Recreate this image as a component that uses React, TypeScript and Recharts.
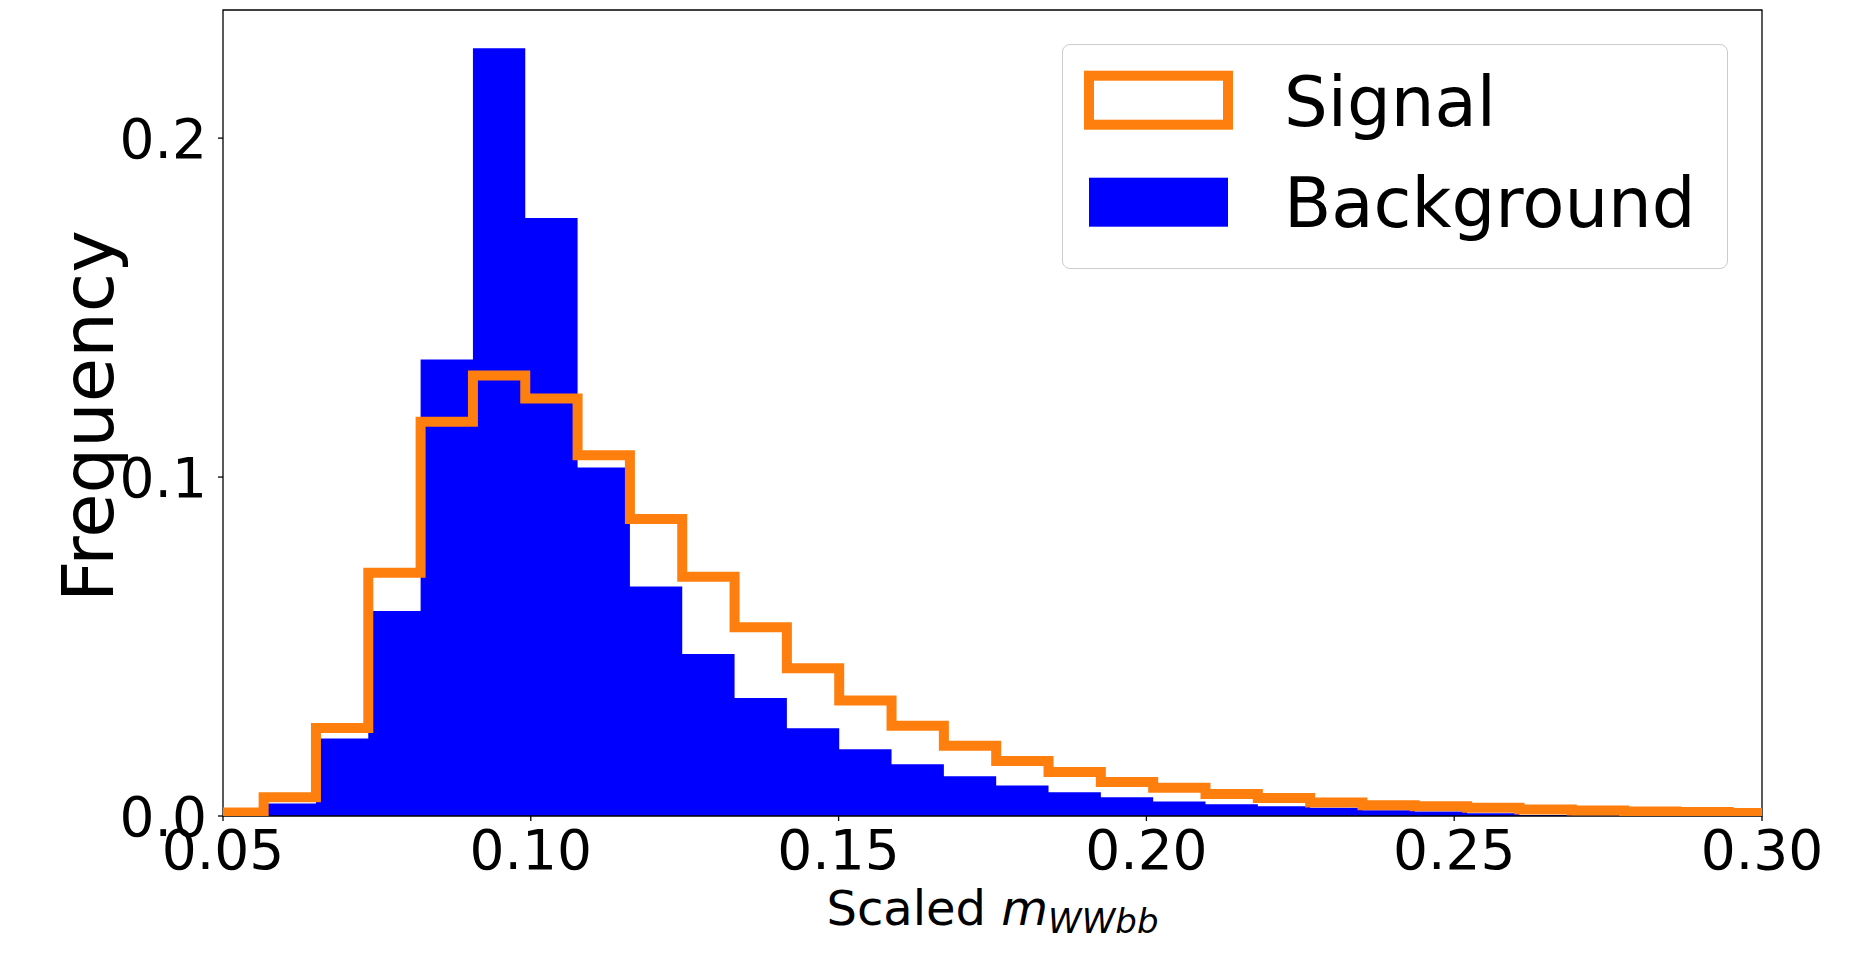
import React from 'react'
import { ComposedChart, Area, Line, XAxis, YAxis, ReferenceArea, Legend, Label } from 'recharts'

// histogram bin edges (scaled m_WWbb), one more than the bin counts
const binEdges = [
  0.0481, 0.0566, 0.0651, 0.0736, 0.0821, 0.0906, 0.0991, 0.1076, 0.1161, 0.1246,
  0.1331, 0.1416, 0.1501, 0.1586, 0.1671, 0.1756, 0.1841, 0.1926, 0.2011, 0.2096,
  0.2181, 0.2266, 0.2351, 0.2436, 0.2521, 0.2606, 0.2691, 0.2776, 0.2861, 0.2946,
  0.3031,
]

const signal = [
  0.0010, 0.0055, 0.0260, 0.0718, 0.1163, 0.1300, 0.1232, 0.1064, 0.0876, 0.0706,
  0.0557, 0.0436, 0.0341, 0.0266, 0.0207, 0.0162, 0.0130, 0.0100, 0.0083, 0.0065,
  0.0053, 0.0040, 0.0032, 0.0029, 0.0024, 0.0019, 0.0016, 0.0013, 0.0012, 0.0009,
]

const background = [
  0.0000, 0.0037, 0.0229, 0.0605, 0.1347, 0.2265, 0.1764, 0.1028, 0.0677, 0.0478,
  0.0348, 0.0259, 0.0197, 0.0153, 0.0117, 0.0090, 0.0070, 0.0055, 0.0043, 0.0035,
  0.0029, 0.0024, 0.0017, 0.0013, 0.0008, 0.0003, 0.0001, 0.0000, 0.0000, 0.0000,
]

const xTicks = [0.05, 0.1, 0.15, 0.2, 0.25, 0.3]
const yTicks = [0, 0.1, 0.2]
const xDomain = [0.05, 0.3]
const yDomain = [0, 0.2378]

const FONT = '"DejaVu Sans", sans-serif'
const ORANGE = '#ff7f0e'
const BLUE = '#0000ff'

// step data: each row is the left edge of a bin, last row closes the final bin
const rows = binEdges.map((x, i) => {
  const k = Math.min(i, signal.length - 1)
  return { x, signal: signal[k], background: background[k] }
})

const LegendBox = () => (
  <div style={{
    width: 666, height: 225, boxSizing: 'border-box', position: 'relative',
    border: '1.5px solid #cccccc', borderRadius: 8, background: 'rgba(255,255,255,0.8)',
  }}>
    <svg width={666} height={225} style={{ position: 'absolute', left: -1.5, top: -1.5 }}>
      <rect x={27} y={31.7} width={139} height={49} fill="#fff" stroke={ORANGE} strokeWidth={10} />
      <text x={222} y={81.7} fontSize={69} fontFamily={FONT} fill="#000">Signal</text>
      <rect x={27} y={133.7} width={139} height={49} fill={BLUE} />
      <text x={222} y={182.7} fontSize={69} fontFamily={FONT} fill="#000">Background</text>
    </svg>
  </div>
)

const YTitle = (props: any) => {
  const vb = props.viewBox
  const x = vb.x + 113
  const y = vb.y + vb.height / 2 + 3
  return (
    <text x={x} y={y} transform={`rotate(-90, ${x}, ${y})`} textAnchor="middle"
      fontSize={72} fontFamily={FONT} fill="#000">
      Frequency
    </text>
  )
}

const XTitle = (props: any) => {
  const vb = props.viewBox
  return (
    <text x={vb.x + vb.width / 2} y={vb.y + 109} textAnchor="middle" fontSize={48} fontFamily={FONT} fill="#000">
      Scaled <tspan fontStyle="italic">m</tspan>
      <tspan fontStyle="italic" fontSize={34} dy={8}>WWbb</tspan>
    </text>
  )
}

export default function App() {
  return (
    <div style={{ position: 'absolute', left: 0, top: 0, width: 1855, height: 960, background: '#fff' }}>
      <ComposedChart width={1855} height={960} data={rows}
        margin={{ top: 10, right: 93, bottom: 0, left: 0 }}>
        <XAxis dataKey="x" type="number" domain={xDomain} ticks={xTicks} interval={0}
          allowDataOverflow height={144} axisLine={false}
          tickLine={{ stroke: '#000', strokeWidth: 1.3 }} tickSize={5} tickMargin={9}
          tick={{ fill: '#000', fontSize: 55, fontFamily: FONT }}
          tickFormatter={(v: number) => v.toFixed(2)}>
          <Label content={XTitle} />
        </XAxis>
        <YAxis type="number" domain={yDomain} ticks={yTicks} interval={0}
          allowDataOverflow width={223} axisLine={false}
          tickLine={{ stroke: '#000', strokeWidth: 1.3 }} tickSize={5} tickMargin={11}
          tick={{ fill: '#000', fontSize: 55, fontFamily: FONT }}
          tickFormatter={(v: number) => v.toFixed(1)}>
          <Label content={YTitle} />
        </YAxis>
        <Area type="stepAfter" dataKey="background" name="Background" fill={BLUE} fillOpacity={1}
          stroke="none" isAnimationActive={false} />
        <Line type="stepAfter" dataKey="signal" name="Signal" stroke={ORANGE} strokeWidth={10}
          strokeLinejoin="miter" strokeLinecap="butt" dot={false} activeDot={false} isAnimationActive={false} />
        <ReferenceArea x1={xDomain[0]} x2={xDomain[1]} y1={yDomain[0]} y2={yDomain[1]}
          fill="none" fillOpacity={0} stroke="#000" strokeWidth={1.3} strokeOpacity={1} />
        <Legend layout="vertical" align="center" verticalAlign="middle"
          wrapperStyle={{ left: 1062, top: 44, width: 666, height: 225 }}
          content={() => <LegendBox />} />
      </ComposedChart>
    </div>
  )
}
